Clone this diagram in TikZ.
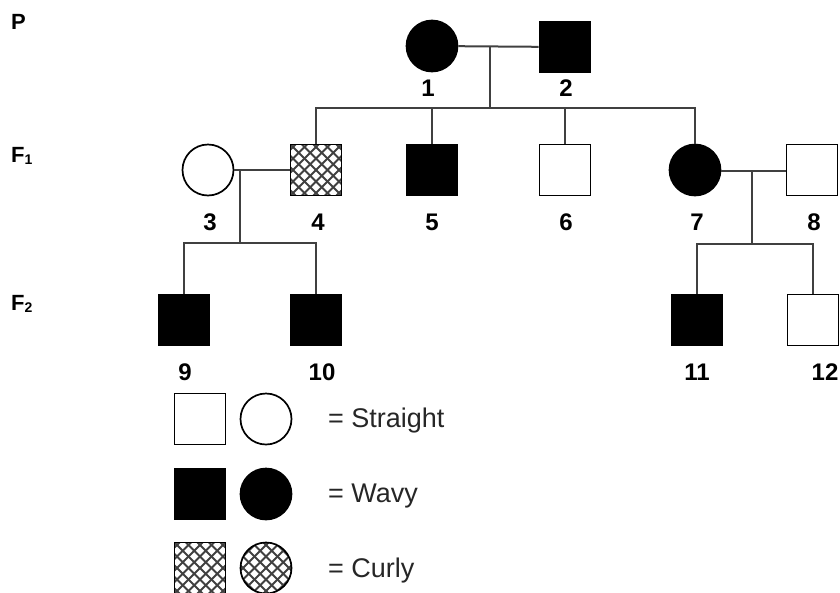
\documentclass[tikz,border=0pt]{standalone}
\usepackage{fontspec}
\setmainfont{Liberation Sans}
\begin{document}
\begin{tikzpicture}[x=1pt,y=-1pt,
  sq/.style={draw, rectangle, line width=1.7pt, minimum size=51pt, inner sep=0pt},
  ci/.style={draw, circle, line width=1.7pt, minimum size=51pt, inner sep=0pt},
  aff/.style={fill=black},
  hatch/.style={path picture={
    \foreach \k in {-6,...,6}{
      \draw[line width=2pt, black!75] ([xshift=\k*11.5pt-40pt, yshift=-40pt]path picture bounding box.center) -- ++(80pt,80pt);
      \draw[line width=2pt, black!75] ([xshift=\k*11.5pt-40pt, yshift=40pt]path picture bounding box.center) -- ++(80pt,-80pt);
    }}},
  ln/.style={line width=2pt, draw=black!75},
  num/.style={font=\bfseries\fontsize{24}{24}\selectfont, inner sep=0pt},
  gen/.style={font=\bfseries\fontsize{22}{22}\selectfont, inner sep=0pt, anchor=west},
  lbl/.style={font=\fontsize{27}{27}\selectfont, text=black!85, inner sep=0pt, anchor=west}
]
\useasboundingbox (0,0) rectangle (840,592);

% generation labels
\node[gen] (gP) at (11,22) {P};
\node[gen] (gF1) at (11,156) {F{\fontsize{14}{14}\selectfont\raisebox{-0.35ex}{1}}};
\node[gen] (gF2) at (11,304) {F{\fontsize{14}{14}\selectfont\raisebox{-0.35ex}{2}}};

% P generation
\node[ci,aff] (n1) at (432,46) {};
\node[sq,aff] (n2) at (565,47) {};
% F1
\node[ci] (n3) at (208,170) {};
\node[sq,hatch] (n4) at (316,170) {};
\node[sq,aff] (n5) at (432,170) {};
\node[sq] (n6) at (565,170) {};
\node[ci,aff] (n7) at (695,170) {};
\node[sq] (n8) at (812,170) {};
% F2
\node[sq,aff] (n9) at (184,320) {};
\node[sq,aff] (n10) at (316,320) {};
\node[sq,aff] (n11) at (697,320) {};
\node[sq] (n12) at (813,320) {};

% numbers
\node[num] (l1) at (428,88) {1};
\node[num] (l2) at (566,88) {2};
\node[num] (l3) at (210,222) {3};
\node[num] (l4) at (318,222) {4};
\node[num] (l5) at (432,222) {5};
\node[num] (l6) at (566,222) {6};
\node[num] (l7) at (697,222) {7};
\node[num] (l8) at (814,222) {8};
\node[num] (l9) at (185,372) {9};
\node[num] (l10) at (322,372) {10};
\node[num] (l11) at (697,372) {11};
\node[num] (l12) at (825,372) {12};

% connector coordinates
\coordinate (m12) at (490,46);
\coordinate (c12) at (490,108);
\coordinate (m34) at (240,170);
\coordinate (c34) at (240,243);
\coordinate (m78) at (752,171);
\coordinate (c78) at (752,244);

% P mating and offspring
\draw[ln] (n1) -- (n2);
\draw[ln] (m12) -- (c12);
\draw[ln] (n4.north) |- (c12) -| (n7.north);
\draw[ln] (n5.north) -- (n5.north |- c12);
\draw[ln] (n6.north) -- (n6.north |- c12);
% 3 x 4
\draw[ln] (n3) -- (n4);
\draw[ln] (m34) -- (c34);
\draw[ln] (n9.north) |- (c34) -| (n10.north);
% 7 x 8
\draw[ln] (n7.east |- m78) -- (n8.west |- m78);
\draw[ln] (m78) -- (c78);
\draw[ln] (n11.north) |- (c78) -| (n12.north);

% legend
\node[sq] (ks1) at (200,419) {};
\node[ci] (kc1) at (266,419) {};
\node[lbl] (kt1) at (328,421) {= Straight};
\node[sq,aff] (ks2) at (200,494) {};
\node[ci,aff] (kc2) at (266,494) {};
\node[lbl] (kt2) at (328,496) {= Wavy};
\node[sq,hatch] (ks3) at (200,568) {};
\node[ci,hatch] (kc3) at (266,568) {};
\node[lbl] (kt3) at (328,571) {= Curly};
\end{tikzpicture}
\end{document}
